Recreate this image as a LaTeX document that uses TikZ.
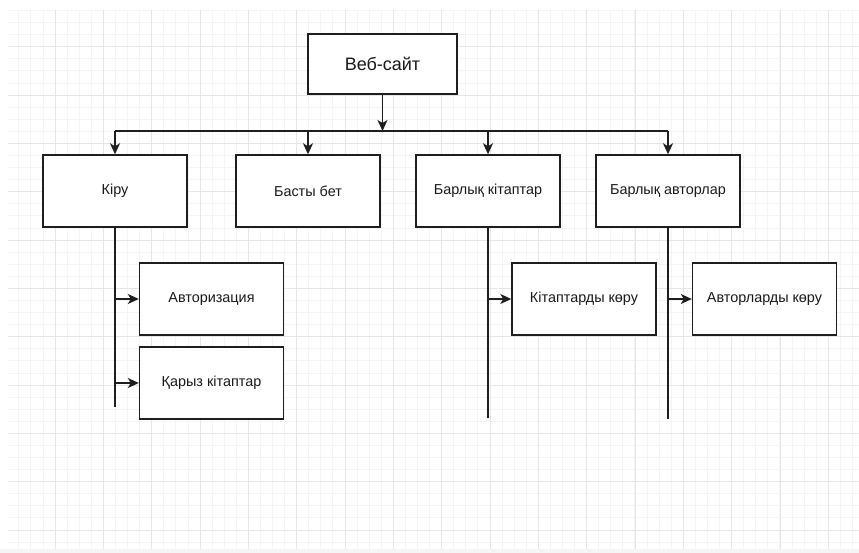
\documentclass[tikz,border=0pt]{standalone}
\usepackage{fontspec}
\setmainfont{Liberation Sans}
\usetikzlibrary{arrows.meta}
\definecolor{gridminor}{HTML}{F4F4F4}
\definecolor{gridmajor}{HTML}{E6E6E6}
\definecolor{inkline}{HTML}{1E1E1E}
\tikzset{
  box/.style={draw=inkline, line width=1.4pt, fill=white, inner sep=0pt,
    minimum width=144pt, minimum height=72pt, text=black!90,
    font=\fontsize{14.4}{16}\selectfont},
  link/.style={draw=inkline, line width=1.4pt},
  arrow/.style={link, -{Stealth[length=11pt,width=10pt,inset=3pt]}},
}
\begin{document}
\begin{tikzpicture}[x=1pt,y=-1pt]
  \useasboundingbox (0,0) rectangle (859,553);
  \fill[white] (0,0) rectangle (859,553);
  % canvas grid
  \begin{scope}
    \clip (8,10) rectangle (859,549);
    \foreach \i in {-1,...,71} {
      \draw[gridminor, line width=0.8pt] ({6.7+12.08*\i},10) -- ({6.7+12.08*\i},549);
    }
    \foreach \i in {-1,...,45} {
      \draw[gridminor, line width=0.8pt] (8,{10.5+12.08*\i}) -- (859,{10.5+12.08*\i});
    }
    \foreach \i in {-1,...,17} {
      \draw[gridmajor, line width=0.9pt] ({55+48.33*\i},10) -- ({55+48.33*\i},549);
    }
    \foreach \i in {-1,...,11} {
      \draw[gridmajor, line width=0.9pt] (8,{46.7+48.33*\i}) -- (859,{46.7+48.33*\i});
    }
  \end{scope}
  \fill[black!4] (0,549) rectangle (859,553);

  % nodes
  \node[box, minimum width=149pt, minimum height=60pt,
        font=\fontsize{18}{20}\selectfont] (web) at (382.5,64) {Веб-сайт};
  \node[box] (kiru)  at (115,191)   {Кіру};
  \node[box] (basty) at (308,191)   {Басты бет};
  \node[box] (kitap) at (488,191)   {Барлық кітаптар};
  \node[box] (avtor) at (668,191)   {Барлық авторлар};
  \node[box] (auth)  at (211.5,299) {Авторизация};
  \node[box] (qaryz) at (211.5,383) {Қарыз кітаптар};
  \node[box] (kview) at (584,299)   {Кітаптарды көру};
  \node[box] (aview) at (764.5,299) {Авторларды көру};

  % top-level bus
  \coordinate (bus) at (0,131);
  \draw[arrow] (web.south) -- (web.south |- bus);
  \draw[link] (kiru.north |- bus) -- (avtor.north |- bus);
  \foreach \n in {kiru,basty,kitap,avtor} {
    \draw[arrow] (\n.north |- bus) -- (\n.north);
  }

  % trunks to sub-pages
  \coordinate (kiruEnd)  at (115,407);
  \coordinate (kitapEnd) at (488,418);
  \coordinate (avtorEnd) at (668,419);
  \draw[link] (kiru.south) -- (kiruEnd);
  \draw[link] (kitap.south) -- (kitapEnd);
  \draw[link] (avtor.south) -- (avtorEnd);
  \draw[arrow] (kiru.south |- auth.west) -- (auth.west);
  \draw[arrow] (kiru.south |- qaryz.west) -- (qaryz.west);
  \draw[arrow] (kitap.south |- kview.west) -- (kview.west);
  \draw[arrow] (avtor.south |- aview.west) -- (aview.west);
\end{tikzpicture}
\end{document}
